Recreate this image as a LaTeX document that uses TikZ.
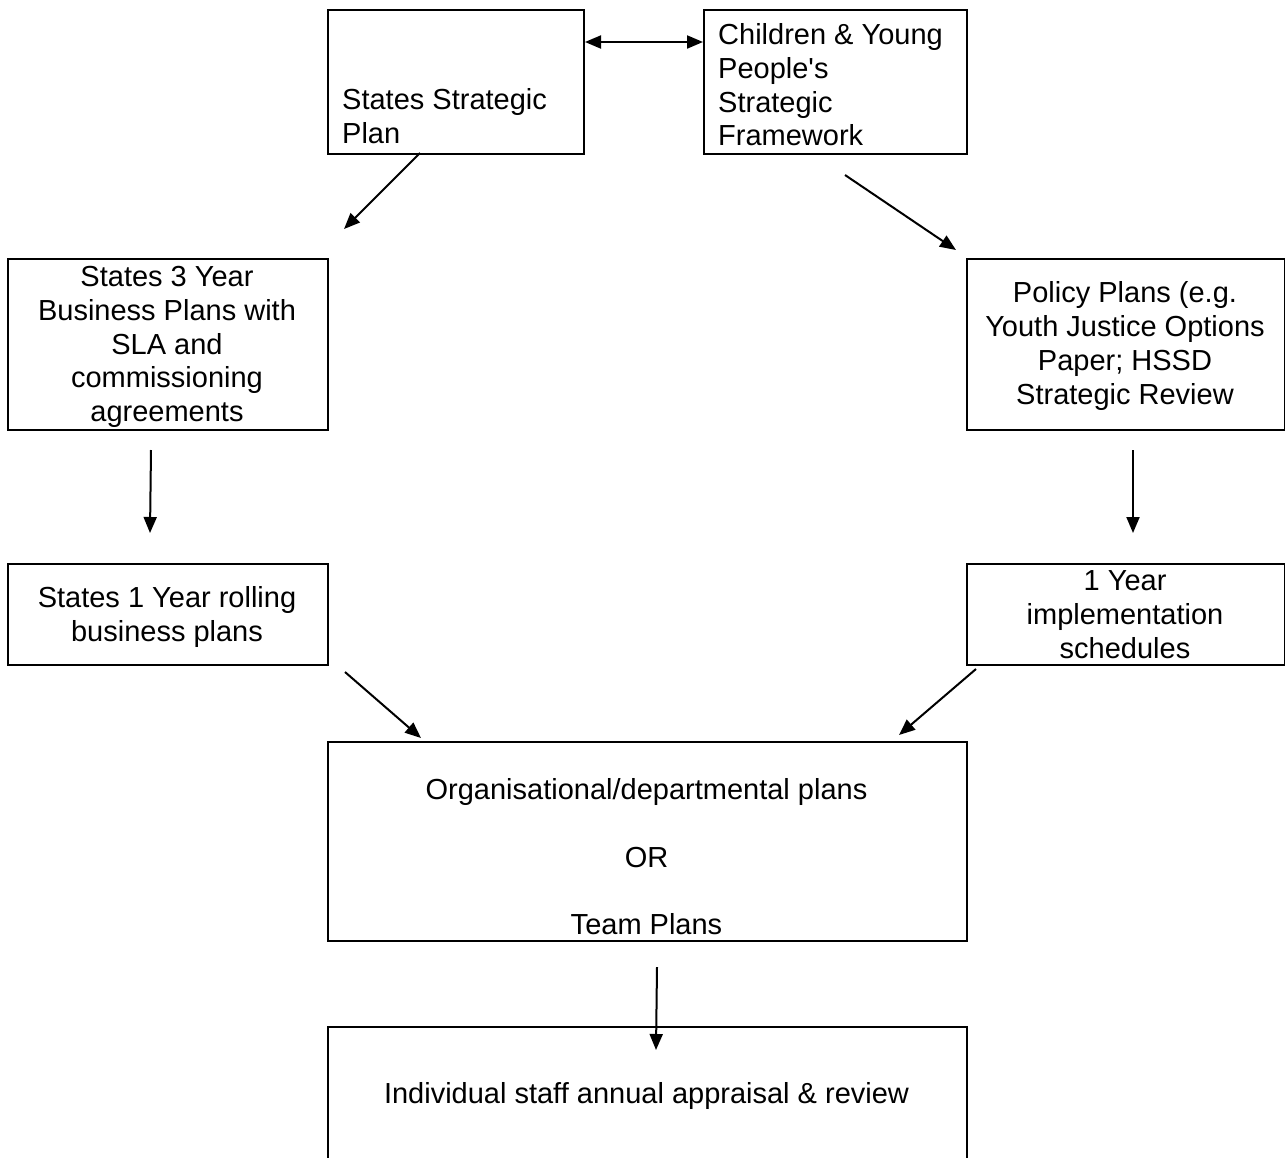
\documentclass[tikz,border=0pt]{standalone}
\usepackage{fontspec}
\setmainfont{Liberation Sans}[Ligatures=TeXOff]
\usetikzlibrary{arrows.meta}
\begin{document}
\begin{tikzpicture}[x=1pt,y=-1pt,
  box/.style={draw=black,line width=2pt,rectangle,inner sep=0pt,anchor=north west},
  txt/.style={font=\fontsize{29}{33.7}\selectfont,inner sep=0pt,align=center},
  ltxt/.style={font=\fontsize{29}{33.7}\selectfont,inner sep=0pt,align=left,anchor=west},
  arr/.style={line width=2pt,-{Triangle[length=16pt,width=13pt]}},
  darr/.style={line width=2pt,{Triangle[length=16pt,width=13pt]}-{Triangle[length=16pt,width=13pt]}}]
\useasboundingbox[fill=white] (0,0) rectangle (1285,1157);
% boxes
\node[box,minimum width=256pt,minimum height=144pt] (ssp) at (327,9) {};
\node[box,minimum width=263pt,minimum height=144pt] (cyp) at (703,9) {};
\node[box,minimum width=320pt,minimum height=171pt] (bp3) at (7,258) {};
\node[box,minimum width=318pt,minimum height=171pt] (pol) at (966,258) {};
\node[box,minimum width=320pt,minimum height=101pt] (bp1) at (7,563) {};
\node[box,minimum width=318pt,minimum height=101pt] (imp) at (966,563) {};
\node[box,minimum width=639pt,minimum height=199pt] (org) at (327,741) {};
\node[box,minimum width=639pt,minimum height=134pt] (ind) at (327,1026) {};
% texts
\node[ltxt] (sspt) at (342,116) {States Strategic\\Plan};
\node[ltxt] (cypt) at (718,85) {Children \& Young\\People's\\Strategic\\Framework};
\node[txt] (bp3t) at (167,347) {States 3 Year\\Business Plans with\\SLA and\\commissioning\\agreements};
\node[txt] (polt) at (1125,346) {Policy Plans (e.g.\\Youth Justice Options\\Paper; HSSD\\Strategic Review};
\node[txt] (bp1t) at (167,617) {States 1 Year rolling\\business plans};
\node[txt] (impt) at (1125,614.5) {1 Year\\implementation\\schedules};
\node[txt] (orgt) at (646.5,857) {Organisational/departmental plans\\[33.7pt]OR\\[33.7pt]Team Plans};
\node[txt] (indt) at (646.5,1096) {Individual staff annual appraisal \& review};
% arrow end points
\coordinate (a1s) at (420,153);
\coordinate (a1e) at (344,229);
\coordinate (a2s) at (845,175);
\coordinate (a2e) at (956,250);
\coordinate (a3s) at (151,450);
\coordinate (a3e) at (150,533);
\coordinate (a4s) at (1133,450);
\coordinate (a4e) at (1133,533);
\coordinate (a5s) at (345,672);
\coordinate (a5e) at (421,738);
\coordinate (a6s) at (976,669);
\coordinate (a6e) at (899,735);
\coordinate (a7s) at (657,967);
\coordinate (a7e) at (656,1050);
% connectors
\draw[darr] (ssp.east |- 0,42) -- (cyp.west |- 0,42);
\draw[arr] (a1s) -- (a1e);
\draw[arr] (a2s) -- (a2e);
\draw[arr] (a3s) -- (a3e);
\draw[arr] (a4s) -- (a4e);
\draw[arr] (a5s) -- (a5e);
\draw[arr] (a6s) -- (a6e);
\draw[arr] (a7s) -- (a7e);
\end{tikzpicture}
\end{document}
